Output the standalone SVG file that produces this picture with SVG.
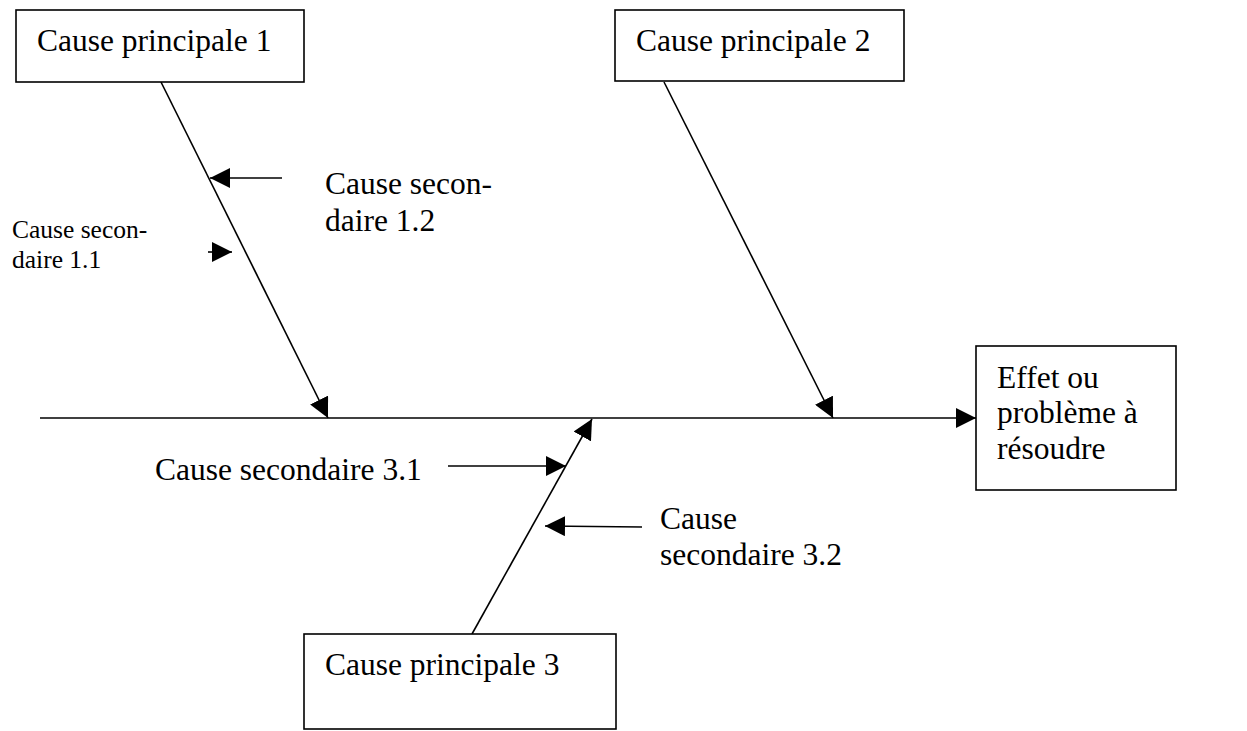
<svg xmlns="http://www.w3.org/2000/svg" width="1247" height="731" viewBox="0 0 1247 731">
<style>
.box{fill:#fff;stroke:#000;stroke-width:1.6}
.ln{stroke:#000;stroke-width:1.6;fill:none}
.t{font-family:"Liberation Serif","Times New Roman",serif;font-size:31.5px;fill:#000}
.s{font-family:"Liberation Serif","Times New Roman",serif;font-size:25.5px;fill:#000}
</style>
<defs>
<marker id="ah" markerUnits="userSpaceOnUse" markerWidth="20" markerHeight="20" refX="20" refY="10" orient="auto" viewBox="0 0 20 20">
<path d="M0,0 L20,10 L0,20 z" fill="#000"/>
</marker>
</defs>
<rect width="1247" height="731" fill="#fff"/>
<g id="connectors">
<line class="ln" x1="40" y1="418" x2="976" y2="418" marker-end="url(#ah)"/>
<line class="ln" x1="161" y1="82" x2="328" y2="418" marker-end="url(#ah)"/>
<line class="ln" x1="664" y1="82" x2="833" y2="418" marker-end="url(#ah)"/>
<line class="ln" x1="472" y1="634" x2="592" y2="419" marker-end="url(#ah)"/>
<line class="ln" x1="282" y1="178" x2="210" y2="178" marker-end="url(#ah)"/>
<line class="ln" x1="208" y1="252" x2="232" y2="252" marker-end="url(#ah)"/>
<line class="ln" x1="448" y1="466" x2="566" y2="466" marker-end="url(#ah)"/>
<line class="ln" x1="642" y1="527" x2="545" y2="526" marker-end="url(#ah)"/>
</g>
<g id="cause1">
<rect class="box" x="16" y="10" width="288" height="72"/>
<text class="t" x="37" y="51">Cause principale 1</text>
</g>
<g id="cause2">
<rect class="box" x="615" y="10" width="289" height="71"/>
<text class="t" x="636" y="51">Cause principale 2</text>
</g>
<g id="cause3">
<rect class="box" x="304" y="634" width="312" height="95"/>
<text class="t" x="325" y="675">Cause principale 3</text>
</g>
<g id="effet">
<rect class="box" x="976" y="346" width="200" height="144"/>
<text class="t" x="997" y="388">Effet ou</text>
<text class="t" x="997" y="423">problème à</text>
<text class="t" x="997" y="459">résoudre</text>
</g>
<g id="sec11">
<text class="s" x="12" y="238">Cause secon-</text>
<text class="s" x="12" y="268">daire 1.1</text>
</g>
<g id="sec12">
<text class="t" x="325" y="194">Cause secon-</text>
<text class="t" x="325" y="231">daire 1.2</text>
</g>
<g id="sec31">
<text class="t" x="155" y="480">Cause secondaire 3.1</text>
</g>
<g id="sec32">
<text class="t" x="660" y="529">Cause</text>
<text class="t" x="660" y="565">secondaire 3.2</text>
</g>
</svg>
